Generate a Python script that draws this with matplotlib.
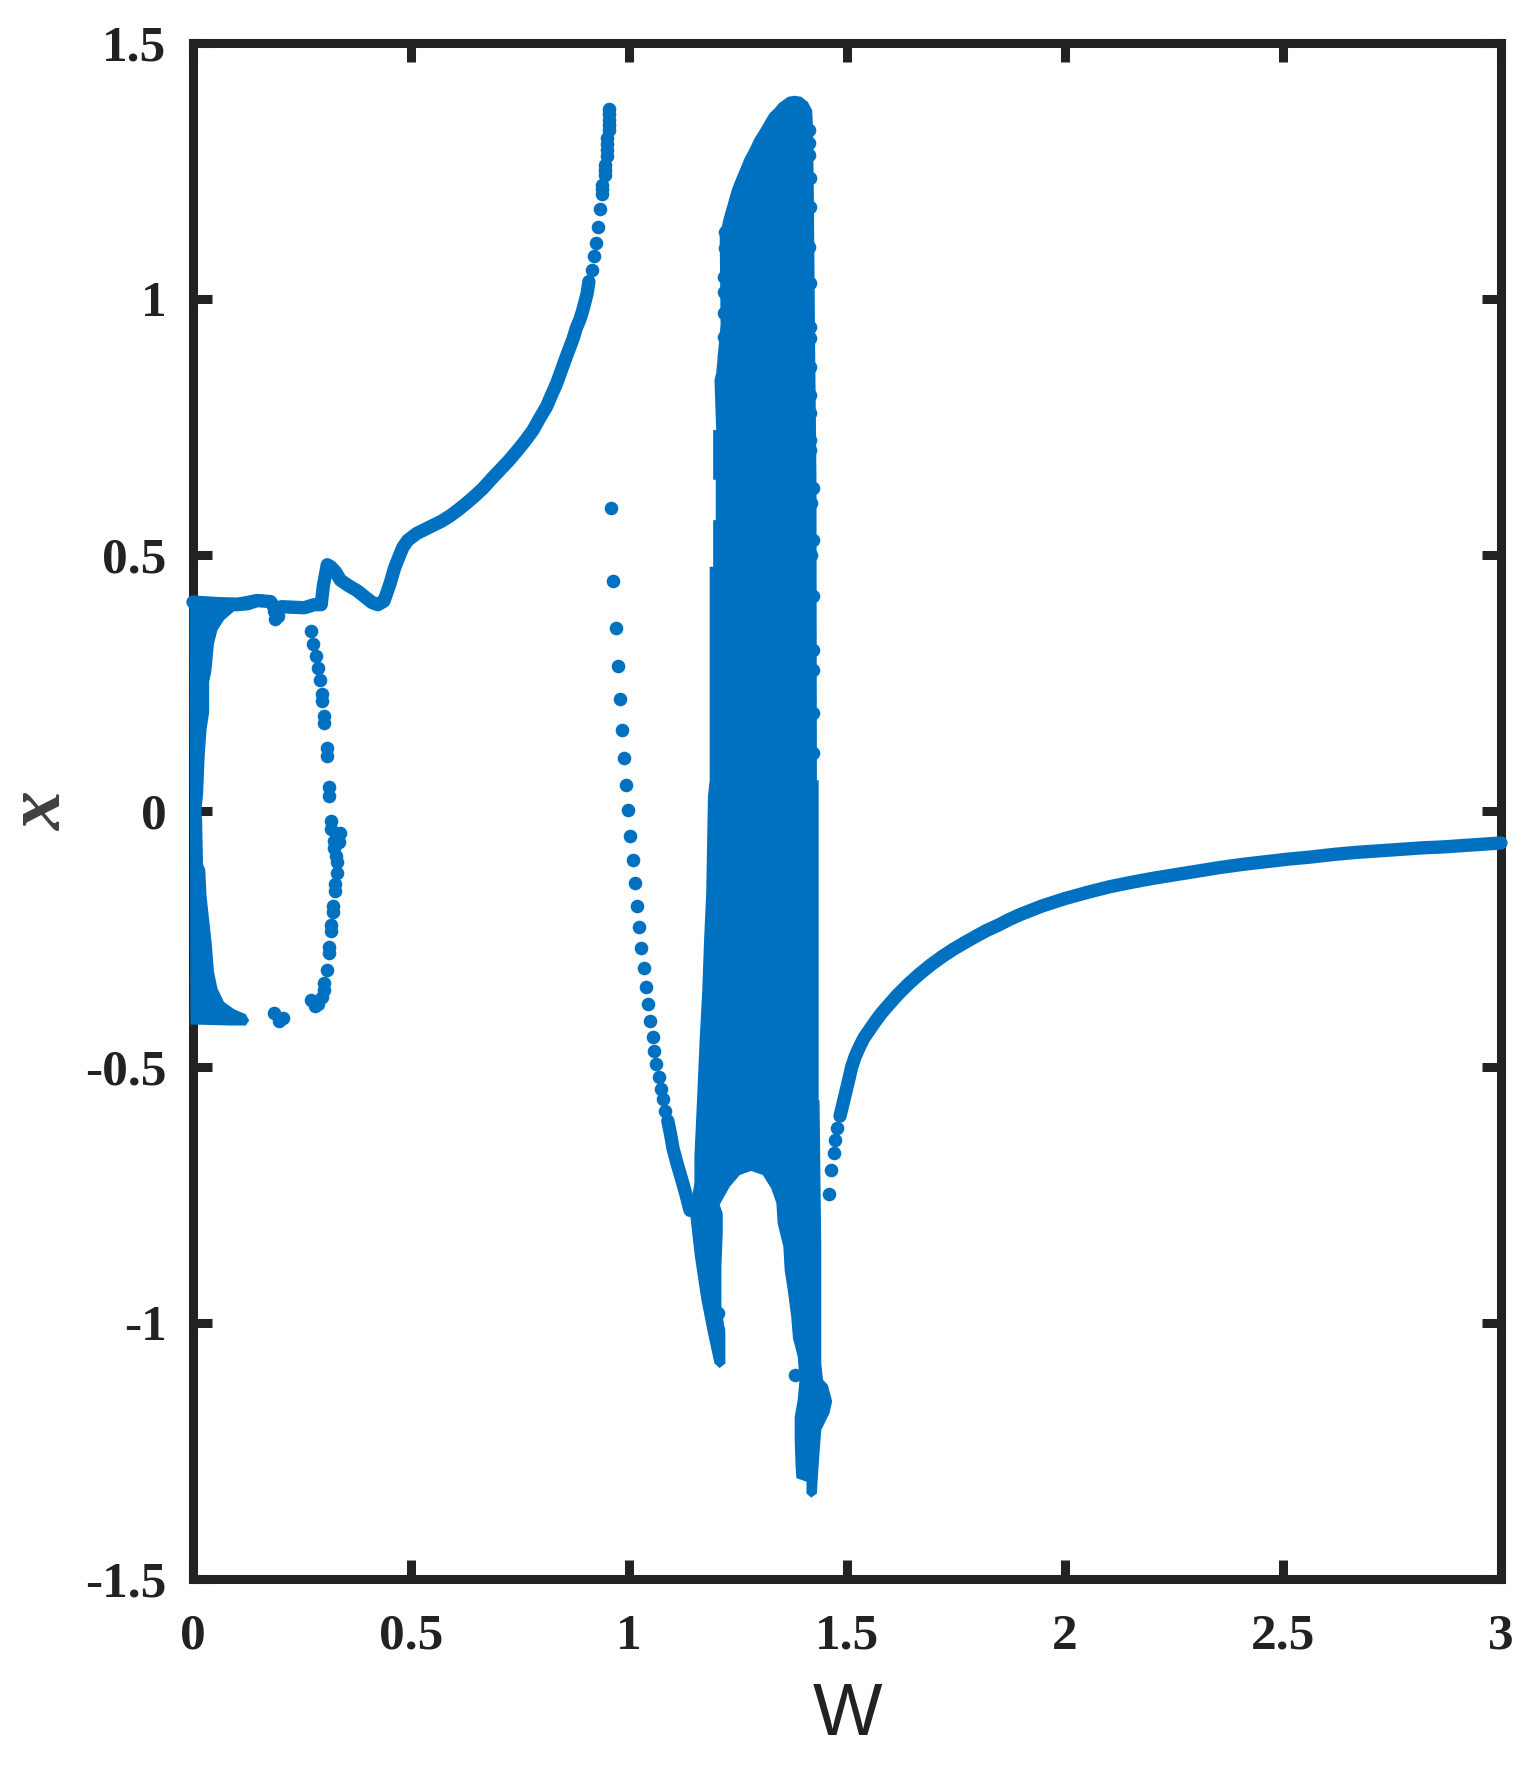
#!/usr/bin/env python3
"""
Bifurcation diagram of x against W
"""
import matplotlib
matplotlib.use('Agg')
import matplotlib.pyplot as plt

BLUE = '#0071C1'
DARK = '#222222'

xticks = [0, 0.5, 1, 1.5, 2, 2.5, 3]
xtick_labels = ['0', '0.5', '1', '1.5', '2', '2.5', '3']
yticks = [-1.5, -1, -0.5, 0, 0.5, 1, 1.5]
ytick_labels = ['-1.5', '-1', '-0.5', '0', '0.5', '1', '1.5']

# top branch at small W
upper_w = [0.0, 0.058, 0.102, 0.126, 0.147, 0.178, 0.186]
upper_x = [0.408, 0.405, 0.403, 0.405, 0.411, 0.409, 0.398]

# main curve up to the resonance
main_w = [0.192, 0.203, 0.255, 0.278, 0.294, 0.299, 0.308, 0.316, 0.327, 0.338, 0.357, 0.377, 0.396, 0.411,
          0.424, 0.438, 0.445, 0.453, 0.462, 0.474, 0.482, 0.493, 0.513, 0.532, 0.551, 0.57, 0.589,
          0.608, 0.627, 0.646, 0.665, 0.684, 0.704, 0.723, 0.742, 0.761, 0.78, 0.795, 0.811, 0.822,
          0.834, 0.845, 0.856, 0.864, 0.872, 0.879, 0.887, 0.893, 0.898, 0.904, 0.908]
main_x = [0.393, 0.399, 0.397, 0.403, 0.403, 0.44, 0.481, 0.477, 0.467, 0.451, 0.44, 0.43, 0.417, 0.407,
          0.403, 0.41, 0.427, 0.447, 0.474, 0.5, 0.516, 0.529, 0.542, 0.55, 0.558, 0.566, 0.576,
          0.588, 0.601, 0.615, 0.63, 0.648, 0.666, 0.683, 0.702, 0.722, 0.744, 0.767, 0.79, 0.812,
          0.835, 0.861, 0.887, 0.905, 0.923, 0.943, 0.959, 0.975, 0.991, 1.011, 1.034]

# sparse points at the top of that curve
top_w = [0.914, 0.92, 0.924, 0.93, 0.934, 0.938, 0.938, 0.938, 0.944, 0.944, 0.944, 0.949, 0.949, 0.949, 0.949,
         0.954, 0.954, 0.954, 0.954, 0.954]
top_x = [1.057, 1.084, 1.11, 1.141, 1.175, 1.206, 1.215, 1.223, 1.242, 1.252, 1.262, 1.28, 1.291, 1.302, 1.314,
         1.33, 1.34, 1.35, 1.362, 1.372]

# falling branch of single points
fall_w = [0.959, 0.963, 0.97, 0.974, 0.979, 0.984, 0.989, 0.993, 0.998, 1.003, 1.009, 1.014, 1.018,
          1.023, 1.028, 1.034, 1.039, 1.044, 1.048, 1.054, 1.058, 1.063, 1.069, 1.073, 1.078, 1.083]
fall_x = [0.592, 0.45, 0.357, 0.283, 0.218, 0.158, 0.103, 0.051, 0.001, -0.048, -0.096, -0.141, -0.185,
          -0.227, -0.268, -0.306, -0.343, -0.377, -0.41, -0.441, -0.468, -0.494, -0.519, -0.542, -0.563, -0.585]
# where those points merge into a solid line
merge_w = [1.089, 1.095, 1.101, 1.11, 1.12, 1.13, 1.14]
merge_x = [-0.605, -0.63, -0.659, -0.688, -0.717, -0.747, -0.78]

# decaying branch to the right
right_w = [1.484, 1.493, 1.504, 1.511, 1.519, 1.529, 1.539, 1.552, 1.565, 1.578, 1.591, 1.616, 1.642, 1.667,
           1.693, 1.719, 1.744, 1.77, 1.795, 1.821, 1.847, 1.872, 1.898, 1.949, 2.0, 2.051, 2.102, 2.154,
           2.205, 2.256, 2.307, 2.358, 2.41, 2.461, 2.512, 2.563, 2.614, 2.665, 2.717, 2.768, 2.819, 2.87,
           2.921, 3.0]
right_x = [-0.596, -0.564, -0.525, -0.499, -0.479, -0.46, -0.443, -0.427, -0.411, -0.396, -0.383, -0.359, -0.337, -0.318,
           -0.3, -0.284, -0.27, -0.257, -0.245, -0.233, -0.223, -0.212, -0.202, -0.185, -0.171, -0.159, -0.148, -0.139,
           -0.131, -0.124, -0.117, -0.11, -0.104, -0.099, -0.094, -0.09, -0.085, -0.081, -0.078, -0.075, -0.072, -0.07,
           -0.067, -0.0625]
right_dots_w = [1.4596, 1.464, 1.47, 1.473, 1.478]
right_dots_x = [-0.748, -0.702, -0.668, -0.642, -0.619]

# loop of points near W = 0.3
loop_w = [0.27, 0.275, 0.281, 0.286, 0.291, 0.295, 0.295, 0.3, 0.3, 0.307, 0.307, 0.311, 0.311, 0.316, 0.316,
          0.337, 0.336, 0.323, 0.323, 0.327, 0.33, 0.33, 0.325, 0.325, 0.32, 0.32, 0.316, 0.316,
          0.311, 0.311, 0.307, 0.3, 0.3, 0.296, 0.287, 0.279, 0.271]
loop_x = [0.352, 0.326, 0.303, 0.279, 0.256, 0.229, 0.215, 0.185, 0.171, 0.123, 0.108, 0.046, 0.03, -0.019, -0.035,
          -0.042, -0.06, -0.058, -0.072, -0.087, -0.1, -0.122, -0.143, -0.157, -0.186, -0.198, -0.223, -0.235,
          -0.265, -0.277, -0.311, -0.336, -0.35, -0.363, -0.377, -0.38, -0.37]

# isolated points
lone_w = [0.186, 0.188, 0.194, 0.186, 0.197, 0.207, 1.381]
lone_x = [0.39, 0.375, 0.38, -0.395, -0.41, -0.405, -1.102]

# filled strip at W near 0
strip_w = [-0.008, 0.102, 0.147, 0.186, 0.094, 0.071, 0.056, 0.048, 0.042, 0.037, 0.037, 0.031, 0.027, 0.023,
           0.019, 0.021, 0.023, 0.028, 0.031, 0.037, 0.043, 0.048, 0.056, 0.071, 0.094, 0.121, 0.129, 0.121,
           0.086, -0.006]
strip_x = [0.417, 0.417, 0.424, 0.419, 0.39, 0.373, 0.353, 0.326, 0.272, 0.252, 0.192, 0.158, 0.111, 0.03,
           0.0, -0.017, -0.104, -0.114, -0.165, -0.212, -0.259, -0.313, -0.346, -0.373, -0.387, -0.397, -0.409, -0.419,
           -0.419, -0.417]

# outline of the dense chaotic band
band_w = [1.15, 1.15, 1.156, 1.162, 1.168, 1.172, 1.177, 1.181, 1.185, 1.185, 1.187, 1.193, 1.193, 1.199, 1.199,
          1.193, 1.193, 1.2, 1.196, 1.2, 1.21, 1.208, 1.216, 1.221, 1.227, 1.232, 1.238, 1.246, 1.254, 1.265, 1.277,
          1.288, 1.3, 1.311, 1.322, 1.334, 1.345, 1.365, 1.38, 1.395, 1.41, 1.42, 1.422, 1.424, 1.427, 1.43, 1.431,
          1.435, 1.435, 1.437, 1.441, 1.441, 1.445, 1.456, 1.466, 1.46,
          1.441, 1.437, 1.433, 1.431, 1.418, 1.407, 1.407, 1.384, 1.382, 1.38, 1.38, 1.387, 1.391, 1.387, 1.376,
          1.372, 1.364, 1.357, 1.354, 1.341, 1.338, 1.326, 1.307, 1.28, 1.254, 1.231, 1.208, 1.215, 1.215, 1.212,
          1.212, 1.221, 1.221, 1.208, 1.196, 1.181, 1.166, 1.151, 1.139]
band_x = [-0.727, -0.675, -0.564, -0.447, -0.35, -0.255, -0.161, 0.028, 0.06, 0.477, 0.477, 0.477, 0.568, 0.568, 0.647,
          0.647, 0.744, 0.744, 0.842, 0.855, 0.95, 1.122, 1.154, 1.17, 1.187, 1.203, 1.219, 1.236, 1.252, 1.275, 1.294,
          1.314, 1.33, 1.346, 1.362, 1.372, 1.383, 1.395, 1.397, 1.395, 1.385, 1.369, 1.337, 1.2, 0.9, 0.65, 0.06,
          0.06, -0.565, -0.565, -0.851, -1.079, -1.111, -1.121, -1.153, -1.176,
          -1.209, -1.254, -1.303, -1.333, -1.341, -1.333, -1.31, -1.303, -1.28, -1.228, -1.183, -1.15, -1.111, -1.066, -1.03,
          -0.988, -0.936, -0.897, -0.851, -0.806, -0.766, -0.737, -0.711, -0.703, -0.711, -0.734, -0.769, -0.786, -0.825, -0.89,
          -0.968, -1.02, -1.079, -1.088, -1.079, -1.02, -0.955, -0.87, -0.779]

# points that stick out of the band edges
edge_w = [1.412, 1.412, 1.412, 1.416, 1.416, 1.413, 1.416, 1.416, 1.416, 1.416, 1.416, 1.415, 1.416, 1.416,
          1.421, 1.418, 1.421, 1.418, 1.421, 1.421, 1.421, 1.421, 1.421,
          1.217, 1.217, 1.217, 1.217, 1.217, 1.221, 1.221, 1.205, 1.205]
edge_x = [1.33, 1.305, 1.282, 1.236, 1.18, 1.102, 1.031, 0.946, 0.923, 0.868, 0.812, 0.777, 0.725, 0.705,
          0.63, 0.601, 0.529, 0.5, 0.419, 0.314, 0.275, 0.191, 0.113,
          1.043, 1.014, 0.972, 0.926, 0.888, 1.13, 1.1, -0.981, -1.014]

plt.rcParams['font.family'] = ['Liberation Serif', 'DejaVu Serif']

fig = plt.figure(figsize=(15.35, 17.7), dpi=100, facecolor='white')
ax = fig.add_axes([193 / 1535, 1 - 1579 / 1770, (1501 - 193) / 1535, (1579 - 43) / 1770])

lw = 9.6
dot = 96
ax.fill(strip_w, strip_x, color=BLUE, lw=0, zorder=3, clip_on=False)
ax.fill(band_w, band_x, color=BLUE, lw=0, zorder=3)
for w, v in [(upper_w, upper_x), (main_w, main_x), (merge_w, merge_x), (right_w, right_x)]:
    ax.plot(w, v, '-', color=BLUE, linewidth=lw, solid_capstyle='round', zorder=3, clip_on=False)
for w, v in [(top_w, top_x), (fall_w, fall_x), (right_dots_w, right_dots_x), (loop_w, loop_x),
             (lone_w, lone_x), (edge_w, edge_x)]:
    ax.scatter(w, v, s=dot, color=BLUE, linewidths=0, zorder=3)

ax.set_xlim(0, 3)
ax.set_ylim(-1.5, 1.5)
ax.set_axisbelow(True)
ax.set_xticks(xticks)
ax.set_xticklabels(xtick_labels, fontweight='bold', fontsize=37, color=DARK)
ax.set_yticks(yticks)
ax.set_yticklabels(ytick_labels, fontweight='bold', fontsize=37, color=DARK)
ax.tick_params(direction='in', top=True, right=True, length=14, width=6.5, color=DARK)
ax.tick_params(axis='x', pad=25)
ax.tick_params(axis='y', pad=19)
for s in ax.spines.values():
    s.set_linewidth(6.5)
    s.set_color(DARK)

ax.set_xlabel('W', family=['Liberation Sans', 'DejaVu Sans'], fontsize=53, color=DARK, labelpad=15)
ax.set_ylabel('x', fontstyle='italic', fontweight='bold', fontsize=56, color='#404040', labelpad=5)

plt.savefig('out.png', dpi=100, facecolor='white')
plt.close()
